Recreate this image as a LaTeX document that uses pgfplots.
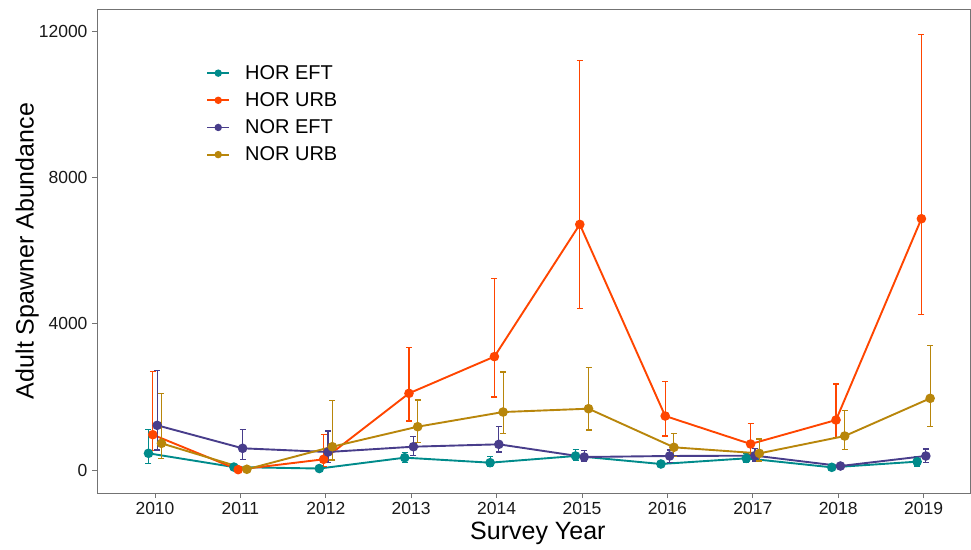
\documentclass[border=0pt]{standalone}
\usepackage{fontspec}
\setmainfont{Liberation Sans}
\usepackage{pgfplots}
\usepackage{pgfplotstable}
\pgfplotsset{compat=1.18}
\definecolor{cHE}{HTML}{008B8B}
\definecolor{cHU}{HTML}{FF4500}
\definecolor{cNE}{HTML}{483D8B}
\definecolor{cNU}{HTML}{B8860B}
\pgfplotsset{eb/.style={error bars/.cd, y dir=both, y explicit,
  error bar style={line width=1.1pt, solid},
  error mark options={rotate=90, mark size=3pt, line width=1.1pt}}}

% x = year + dodge offset, y = estimate, ep/em = upper/lower error
\pgfplotstableread{
x y ep em
2009.924 456 656 273
2010.924 80 40 40
2011.924 40 30 30
2012.924 337 150 140
2013.924 200 170 90
2014.924 383 180 130
2015.924 164 60 60
2016.924 319 120 120
2017.924 73 40 40
2018.924 228 150 120
}\horeft
\pgfplotstableread{
x y ep em
2009.974 965 1722 437
2010.974 10 20 10
2011.974 292 683 200
2012.974 2096 1257 757
2013.974 3100 2147 1105
2014.974 6715 4471 2296
2015.974 1476 938 547
2016.974 711 565 301
2017.974 1366 984 483
2018.974 6870 5030 2615
}\horurb
\pgfplotstableread{
x y ep em
2010.026 1221 1493 674
2011.026 593 519 301
2012.026 492 574 282
2013.026 637 274 236
2014.026 702 482 210
2015.026 355 183 109
2016.026 383 164 173
2017.026 392 191 146
2018.026 109 50 50
2019.026 383 191 173
}\noreft
\pgfplotstableread{
x y ep em
2010.076 729 1367 410
2011.076 20 20 10
2012.076 637 1257 364
2013.076 1184 729 437
2014.076 1585 1093 583
2015.076 1676 1120 583
2016.076 620 373 256
2017.076 455 392 209
2018.076 929 702 364
2019.076 1959 1457 775
}\norurb

\begin{document}
\begin{tikzpicture}
\begin{axis}[
  name=ax,
  scale only axis,
  width=873pt, height=484pt,
  xmin=2009.321, xmax=2019.543,
  ymin=-629, ymax=12604,
  axis line style={draw=black!55, line width=0.8pt},
  tick pos=left,
  tick align=outside,
  major tick length=5pt,
  tick style={draw=black!55, line width=0.8pt},
  xtick={2010,2011,2012,2013,2014,2015,2016,2017,2018,2019},
  xticklabels={2010,2011,2012,2013,2014,2015,2016,2017,2018,2019},
  ytick={0,4000,8000,12000},
  yticklabels={0,4000,8000,12000},
  ticklabel style={font=\fontsize{17.5}{20}\selectfont, text=black!90},
  xticklabel style={yshift=-1pt},
  yticklabel style={xshift=-1pt},
  xlabel={Survey Year},
  ylabel={Adult Spawner Abundance},
  label style={font=\fontsize{25}{28}\selectfont},
  xlabel style={at={(axis description cs:0.505,-0.083)}, anchor=center},
  ylabel style={at={(axis description cs:-0.08,0.5)}, anchor=center, rotate=0},
  legend style={draw=none, fill=none, at={(axis description cs:0.125,0.888)}, anchor=north west,
    font=\fontsize{20}{22}\selectfont, row sep=7.7pt, column sep=13pt, inner sep=0pt},
  legend cell align=left,
  legend image code/.code={%
    \draw[#1, line width=1.8pt] (0pt,0pt) -- (22pt,0pt);
    \fill[#1] (11pt,0pt) circle (2.7pt);},
  every axis plot/.append style={line width=1.9pt},
]
\addplot[cHE, mark=*, mark size=3.8pt, mark options={solid}, eb] table[x=x, y=y, y error plus=ep, y error minus=em] {\horeft};
\addlegendentry{HOR EFT}
\addplot[cHU, mark=*, mark size=3.8pt, mark options={solid}, eb] table[x=x, y=y, y error plus=ep, y error minus=em] {\horurb};
\addlegendentry{HOR URB}
\addplot[cNE, mark=*, mark size=3.8pt, mark options={solid}, eb] table[x=x, y=y, y error plus=ep, y error minus=em] {\noreft};
\addlegendentry{NOR EFT}
\addplot[cNU, mark=*, mark size=3.8pt, mark options={solid}, eb] table[x=x, y=y, y error plus=ep, y error minus=em] {\norurb};
\addlegendentry{NOR URB}
\end{axis}
\pgfresetboundingbox
\path ([xshift=-97pt, yshift=-56pt]ax.south west) rectangle ([xshift=1pt, yshift=9pt]ax.north east);
\end{tikzpicture}
\end{document}
